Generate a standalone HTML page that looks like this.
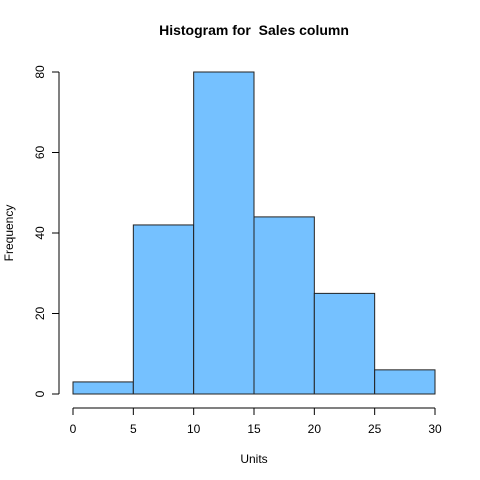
<!DOCTYPE html>
<html><head><meta charset="utf-8"><style>body{margin:0;background:#fff}svg{display:block;font-family:"Liberation Sans",Arial,sans-serif}text{white-space:pre}</style></head>
<body>
<svg id="chart" width="480" height="480" viewBox="0 0 480 480">
<rect width="480" height="480" fill="#fff"/>
<text x="254" y="35" text-anchor="middle" font-size="14" font-weight="bold" xml:space="preserve">Histogram for  Sales column</text>
<text x="254" y="463" text-anchor="middle" font-size="12">Units</text>
<text transform="translate(13,233) rotate(-90)" text-anchor="middle" font-size="12">Frequency</text>
<g id="bars"></g>
<g id="xaxis"></g>
<g id="yaxis"></g>
</svg>
<script>
const binStarts=[0,5,10,15,20,25];
const binWidth=5;
const counts=[3,42,80,44,25,6];
const xTicks=[0,5,10,15,20,25,30];
const yTicks=[0,20,40,60,80];
const NS="http://www.w3.org/2000/svg";
const xs=v=>73+(v-0)*(435-73)/30;
const ys=v=>394-v*(394-72)/80;
function mk(tag,attrs,parent){const e=document.createElementNS(NS,tag);for(const k in attrs)e.setAttribute(k,attrs[k]);parent.appendChild(e);return e;}
const bars=document.getElementById('bars');
counts.forEach((c,i)=>{
  const x0=xs(binStarts[i]),x1=xs(binStarts[i]+binWidth);
  const r=mk('rect',{x:x0,y:ys(c),width:x1-x0,height:ys(0)-ys(c),fill:'#75C1FF',stroke:'#222','stroke-width':1},bars);
  
  
});
const xa=document.getElementById('xaxis');
const ya=document.getElementById('yaxis');
const ay=408;
mk('line',{x1:xs(xTicks[0]),x2:xs(xTicks[xTicks.length-1]),y1:ay,y2:ay,stroke:'#000'},xa);
xTicks.forEach(t=>{
  mk('line',{x1:xs(t),x2:xs(t),y1:ay,y2:ay+7,stroke:'#000'},xa);
  const tx=mk('text',{x:xs(t),y:ay+25,'text-anchor':'middle','font-size':12},xa);
  tx.textContent=t;
  
  
});
const ax=59;
mk('line',{x1:ax,x2:ax,y1:ys(yTicks[0]),y2:ys(yTicks[yTicks.length-1]),stroke:'#000'},ya);
yTicks.forEach(t=>{
  mk('line',{x1:ax-7,x2:ax,y1:ys(t),y2:ys(t),stroke:'#000'},ya);
  const tx=mk('text',{transform:`translate(${ax-15},${ys(t)}) rotate(-90)`,'text-anchor':'middle','font-size':12},ya);
  tx.textContent=t;
  
  
});
</script>
</body></html>
